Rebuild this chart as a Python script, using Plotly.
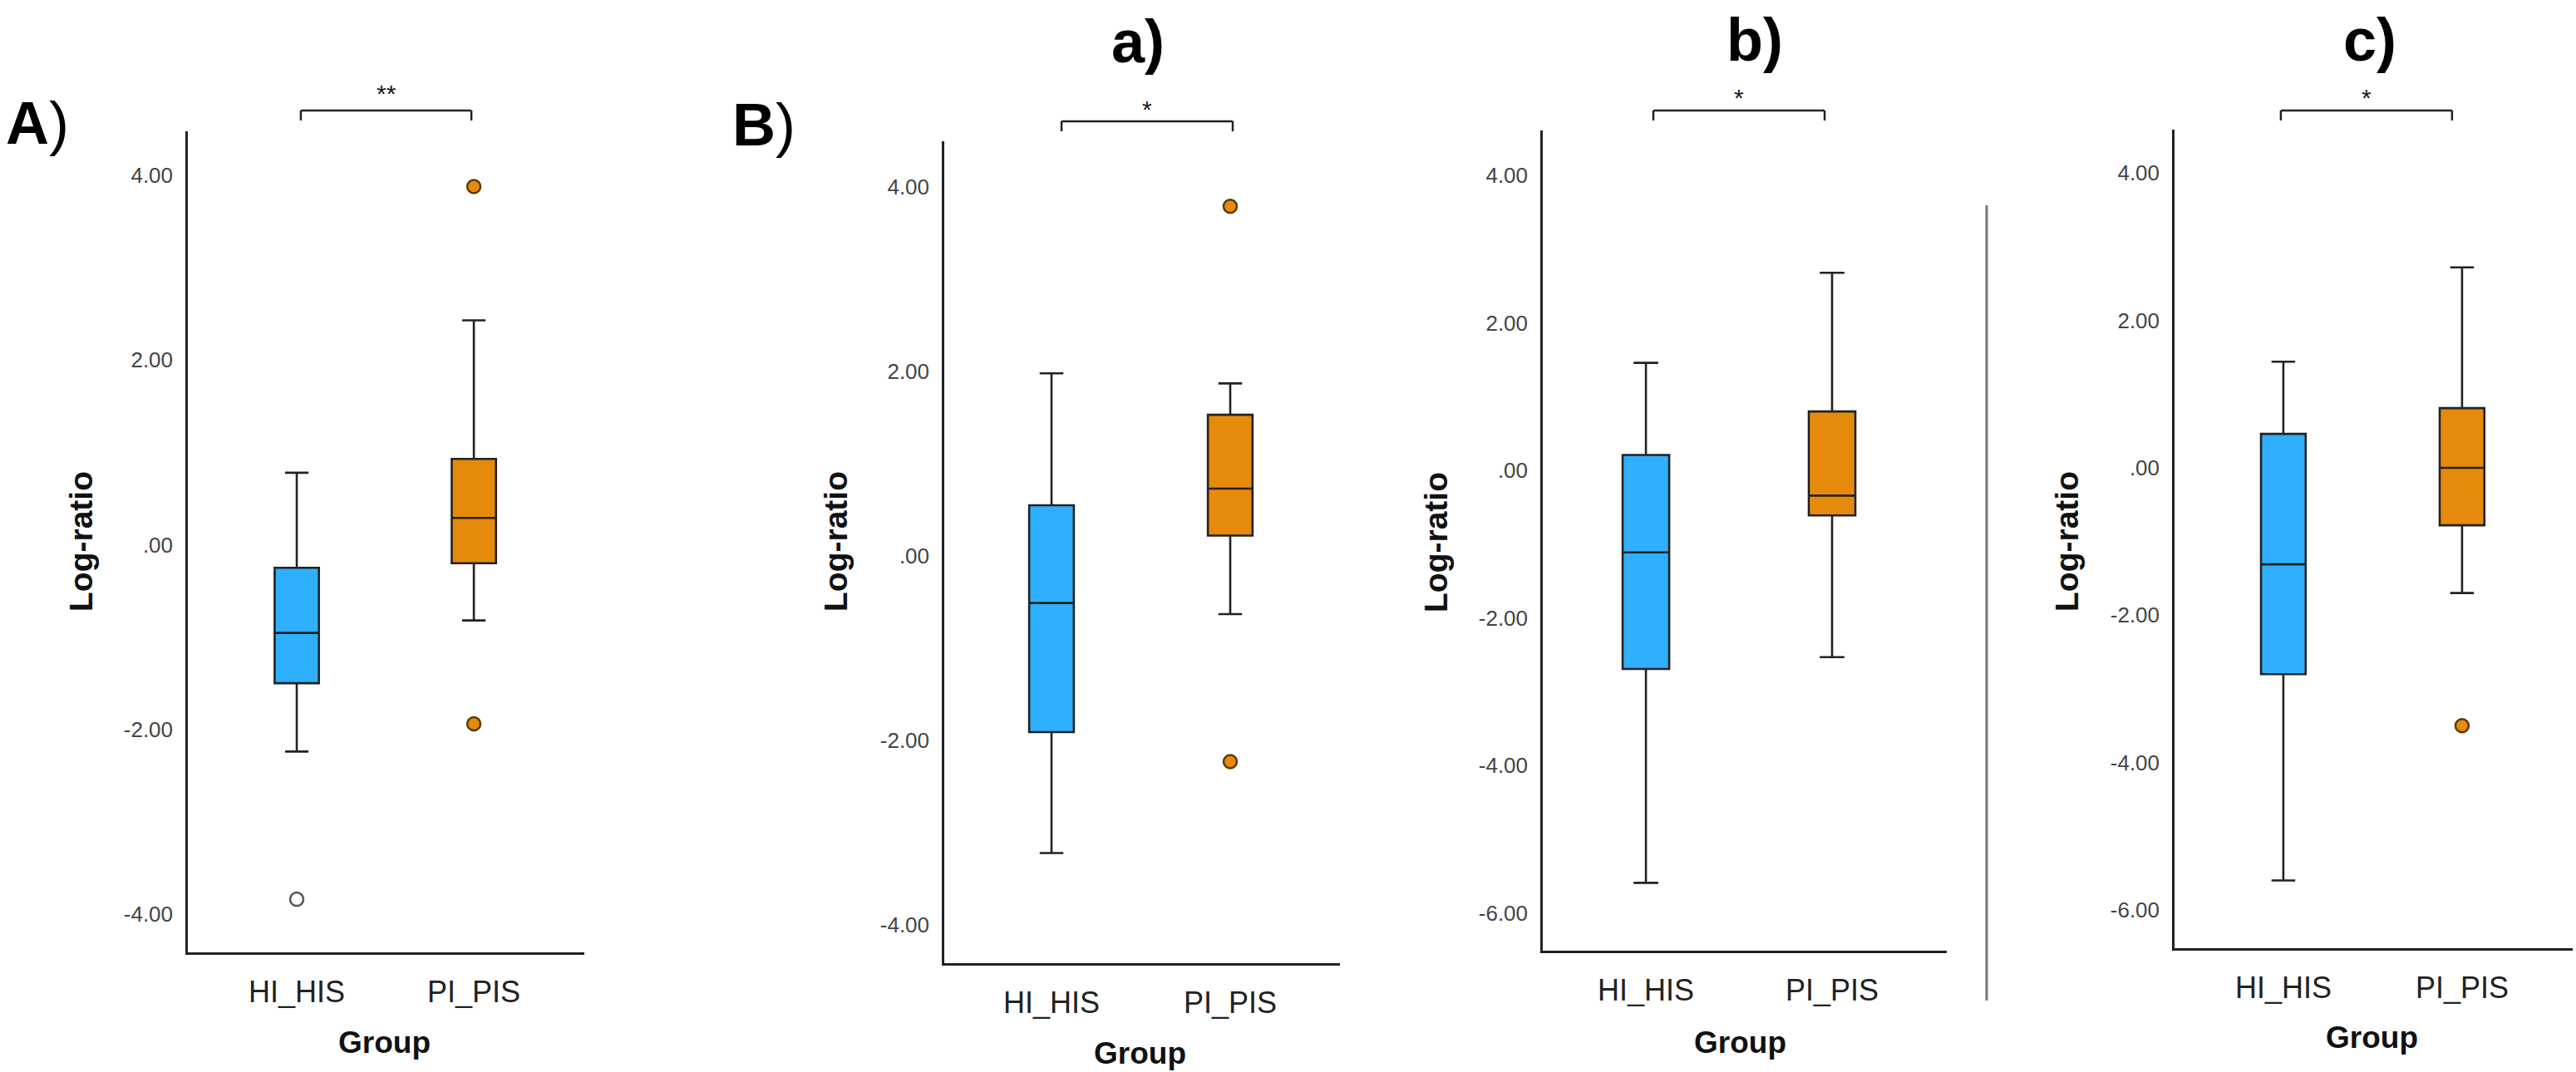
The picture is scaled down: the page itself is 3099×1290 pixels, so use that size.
import plotly.graph_objects as go

W, H = 3099, 1290

# ---------------- data ----------------
categories = ["HI_HIS", "PI_PIS"]

# Panel A
A_q1 = [-1.50, -0.20]
A_med = [-0.955, 0.29]
A_q3 = [-0.25, 0.93]
A_lo = [-2.24, -0.82]
A_hi = [0.78, 2.43]
A_out_HI = [-3.84]
A_out_PI = [3.88, -1.94]

# Panel B a)
a_q1 = [-1.91, 0.22]
a_med = [-0.51, 0.73]
a_q3 = [0.55, 1.53]
a_lo = [-3.22, -0.63]
a_hi = [1.98, 1.87]
a_out_HI = []
a_out_PI = [3.79, -2.23]

# Panel b)
b_q1 = [-2.69, -0.61]
b_med = [-1.11, -0.34]
b_q3 = [0.21, 0.80]
b_lo = [-5.59, -2.53]
b_hi = [1.46, 2.68]
b_out_HI = []
b_out_PI = []

# Panel c)
c_q1 = [-2.80, -0.78]
c_med = [-1.31, 0.00]
c_q3 = [0.46, 0.81]
c_lo = [-5.60, -1.70]
c_hi = [1.44, 2.72]
c_out_HI = []
c_out_PI = [-3.50]

ticks_4 = [4, 2, 0, -2, -4]
ticklabels_4 = ["4.00", "2.00", ".00", "-2.00", "-4.00"]
ticks_6 = [4, 2, 0, -2, -4, -6]
ticklabels_6 = ["4.00", "2.00", ".00", "-2.00", "-4.00", "-6.00"]

stars = ["**", "*", "*", "*"]
panel_tags = ["<b>A</b>)", "<b>a)</b>", "<b>b)</b>", "<b>c)</b>"]

# ---------------- styling ----------------
BLUE = "#2EB0FE"
ORANGE = "#E68A0C"
LINE = "#222222"
FONT = "Liberation Sans"


def px(x):
    return x / W


def py(y):
    return 1 - y / H


# pixel layout of each panel: (left, right, top, bottom), x range, y range
panels = [
    dict(box=(226, 703, 158, 1146), xr=[-0.615, 1.624], yr=[-4.415, 4.478],
         data=(A_q1, A_med, A_q3, A_lo, A_hi, A_out_HI, A_out_PI), ticks=(ticks_4, ticklabels_4),
         title_x=97, group_x=463, group_y=1254, star_y=112, br_top=133, br=(0.023, 0.986)),
    dict(box=(1136, 1612, 170, 1159), xr=[-0.60, 1.614], yr=[-4.414, 4.495],
         data=(a_q1, a_med, a_q3, a_lo, a_hi, a_out_HI, a_out_PI), ticks=(ticks_4, ticklabels_4),
         title_x=1005, group_x=1371, group_y=1267, star_y=131, br_top=146, br=(0.056, 1.014)),
    dict(box=(1856, 2342, 157, 1144), xr=[-0.554, 1.616], yr=[-6.51, 4.61],
         data=(b_q1, b_med, b_q3, b_lo, b_hi, b_out_HI, b_out_PI), ticks=(ticks_6, ticklabels_6),
         title_x=1727, group_x=2093, group_y=1254, star_y=117, br_top=133, br=(0.04, 0.96)),
    dict(box=(2616, 3095, 156, 1141), xr=[-0.609, 1.619], yr=[-6.52, 4.59],
         data=(c_q1, c_med, c_q3, c_lo, c_hi, c_out_HI, c_out_PI), ticks=(ticks_6, ticklabels_6),
         title_x=2486, group_x=2853, group_y=1248, star_y=117, br_top=133, br=(-0.014, 0.944)),
]

fig = go.Figure()
layout = dict(
    width=W, height=H, autosize=False,
    margin=dict(l=0, r=0, t=0, b=0),
    paper_bgcolor="white", plot_bgcolor="white",
    showlegend=False, boxmode="overlay",
    font=dict(family=FONT, color="#222"),
)
annotations = []
shapes = []

for i, p in enumerate(panels):
    n = "" if i == 0 else str(i + 1)
    xa, ya = "x" + n, "y" + n
    l, r, t, b = p["box"]
    q1, med, q3, lo, hi, outH, outP = p["data"]
    fills = [BLUE, ORANGE]
    for j, cat in enumerate(categories):
        fig.add_trace(go.Box(
            x=[cat], q1=[q1[j]], median=[med[j]], q3=[q3[j]],
            lowerfence=[lo[j]], upperfence=[hi[j]],
            fillcolor=fills[j], line=dict(color=LINE, width=2.6),
            width=0.25, whiskerwidth=0.53, boxpoints=False,
            xaxis=xa, yaxis=ya, hoverinfo="y",
        ))
    if outH:
        fig.add_trace(go.Scatter(
            x=[categories[0]] * len(outH), y=outH, mode="markers",
            marker=dict(size=16, color="white", line=dict(color="#555", width=2.5)),
            xaxis=xa, yaxis=ya,
        ))
    if outP:
        fig.add_trace(go.Scatter(
            x=[categories[1]] * len(outP), y=outP, mode="markers",
            marker=dict(size=16, color=ORANGE, line=dict(color="#5a3a05", width=2.5)),
            xaxis=xa, yaxis=ya,
        ))

    tv, tt = p["ticks"]
    layout["xaxis" + n] = dict(
        domain=[px(l), px(r)], anchor=ya, type="category",
        categoryorder="array", categoryarray=categories, range=p["xr"],
        showline=True, linecolor=LINE, linewidth=2.5, ticks="",
        showgrid=False, zeroline=False, fixedrange=True,
        tickfont=dict(size=36, color="#222", family=FONT), ticklabelstandoff=14,
    )
    layout["yaxis" + n] = dict(
        domain=[py(b), py(t)], anchor=xa, range=p["yr"],
        tickvals=tv, ticktext=tt,
        showline=True, linecolor=LINE, linewidth=2.5, ticks="",
        showgrid=False, zeroline=False, fixedrange=True,
        tickfont=dict(size=26, color="#444", family=FONT), ticklabelstandoff=10,
    )

    # axis titles
    annotations.append(dict(
        text="<b>Log-ratio</b>", x=px(p["title_x"]), y=py(652), xref="paper", yref="paper",
        textangle=-90, showarrow=False, xanchor="center", yanchor="middle",
        font=dict(size=39, color="#111", family=FONT),
    ))
    annotations.append(dict(
        text="<b>Group</b>", x=px(p["group_x"]), y=py(p["group_y"]), xref="paper", yref="paper",
        showarrow=False, xanchor="center", yanchor="middle",
        font=dict(size=37, color="#111", family=FONT),
    ))
    # significance bracket
    x0, x1 = p["br"]
    yt, yd = py(p["br_top"]), py(p["br_top"] + 12)
    for (sx0, sy0, sx1, sy1) in [(x0, yd, x0, yt), (x0, yt, x1, yt), (x1, yt, x1, yd)]:
        shapes.append(dict(type="line", xref=xa, yref="paper",
                           x0=sx0, y0=sy0, x1=sx1, y1=sy1,
                           line=dict(color=LINE, width=2.5)))
    annotations.append(dict(
        text=stars[i], x=(x0 + x1) / 2, y=py(p["star_y"]), xref=xa, yref="paper",
        showarrow=False, xanchor="center", yanchor="middle",
        font=dict(size=30, color="#1a1a2a", family=FONT),
    ))

# panel tags
tag_pos = [(5, 148, "left"), (1369, 50, "center"), (2111, 48, "center"), (2851, 48, "center")]
for tag, (tx, ty, anc) in zip(panel_tags, tag_pos):
    annotations.append(dict(
        text=tag, x=px(tx), y=py(ty), xref="paper", yref="paper", showarrow=False,
        xanchor=anc, yanchor="middle", font=dict(size=72, color="black", family=FONT),
    ))
annotations.append(dict(
    text="<b>B</b>)", x=px(879), y=py(150), xref="paper", yref="paper", showarrow=False,
    xanchor="left", yanchor="middle", font=dict(size=72, color="black", family=FONT),
))

# divider line between b) and c)
shapes.append(dict(type="line", xref="paper", yref="paper",
                   x0=px(2390), x1=px(2390), y0=py(247), y1=py(1204),
                   line=dict(color="#777", width=3)))

layout["annotations"] = annotations
layout["shapes"] = shapes
fig.update_layout(**layout)

fig.write_html(
    "out.html",
    config={"displayModeBar": False},
    post_script="document.body.style.margin='0';document.body.style.overflow='hidden';",
)
